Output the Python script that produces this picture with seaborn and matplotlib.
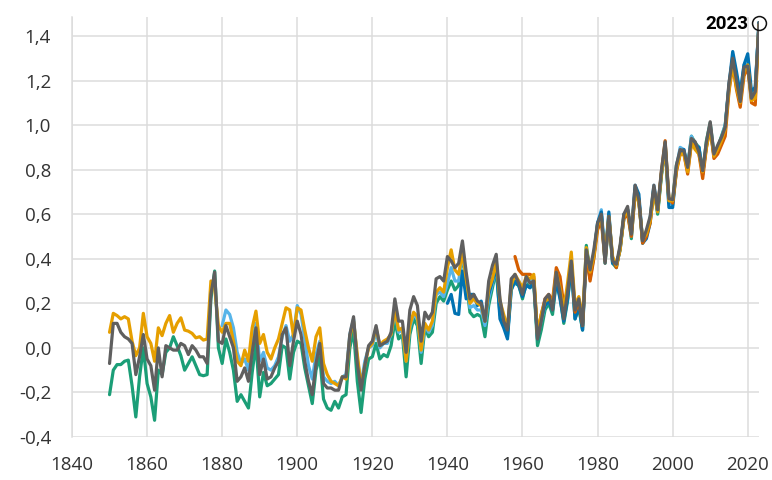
import numpy as np
import pandas as pd
import seaborn as sns
import matplotlib
matplotlib.use("Agg")
import matplotlib.pyplot as plt

# ---------------- data ----------------
years_1850 = list(range(1850, 2024))
years_1880 = list(range(1880, 2024))
years_1940 = list(range(1940, 2024))
years_1958 = list(range(1958, 2024))

gray_vals = [
    -0.07, 0.11, 0.11, 0.07, 0.05, 0.04, 0.02, -0.12, -0.04, 0.06,
    -0.05, -0.08, -0.19, 0.00, -0.13, 0.01, 0.00, -0.01, -0.01, 0.02,
    0.01, -0.03, 0.01, -0.01, -0.04, -0.04, -0.07, 0.24, 0.34, 0.03,
    0.02, 0.10, 0.05, 0.00, -0.15, -0.13, -0.09, -0.15, -0.02, 0.09,
    -0.12, -0.05, -0.14, -0.13, -0.09, -0.06, 0.06, 0.09, -0.08, 0.03,
    0.12, 0.06, -0.06, -0.15, -0.21, -0.07, 0.02, -0.16, -0.18, -0.18,
    -0.19, -0.19, -0.13, -0.13, 0.06, 0.14, -0.07, -0.19, -0.08, 0.01,
    0.03, 0.10, 0.01, 0.02, 0.03, 0.07, 0.22, 0.12, 0.12, -0.02,
    0.17, 0.23, 0.19, 0.03, 0.16, 0.13, 0.16, 0.31, 0.32, 0.30,
    0.41, 0.39, 0.36, 0.38, 0.48, 0.34, 0.22, 0.24, 0.21, 0.20,
    0.12, 0.30, 0.37, 0.42, 0.22, 0.12, 0.08, 0.31, 0.33, 0.29,
    0.24, 0.32, 0.29, 0.30, 0.04, 0.12, 0.22, 0.24, 0.17, 0.34,
    0.25, 0.13, 0.25, 0.39, 0.17, 0.22, 0.10, 0.44, 0.35, 0.44,
    0.56, 0.60, 0.38, 0.59, 0.39, 0.375, 0.46, 0.60, 0.635, 0.51,
    0.73, 0.665, 0.48, 0.53, 0.59, 0.73, 0.62, 0.795, 0.925, 0.67,
    0.665, 0.82, 0.89, 0.885, 0.81, 0.94, 0.925, 0.88, 0.795, 0.925,
    1.015, 0.87, 0.91, 0.945, 0.99, 1.19, 1.30, 1.20, 1.105, 1.26,
    1.265, 1.12, 1.15, 1.46,
]

orange_vals = [
    0.07, 0.155, 0.145, 0.13, 0.14, 0.13, 0.03, -0.035, 0.00, 0.155,
    0.05, 0.02, -0.06, 0.09, 0.055, 0.11, 0.145, 0.07, 0.11, 0.135,
    0.08, 0.075, 0.065, 0.045, 0.05, 0.035, 0.04, 0.30, 0.27, 0.10,
    0.07, 0.11, 0.11, 0.03, -0.06, -0.08, -0.01, -0.06, 0.09, 0.165,
    0.02, 0.06, -0.02, -0.05, 0.00, 0.04, 0.11, 0.18, 0.17, 0.05,
    0.18, 0.17, 0.08, 0.00, -0.06, 0.05, 0.09, -0.07, -0.12, -0.15,
    -0.16, -0.17, -0.13, -0.14, 0.05, 0.12, -0.03, -0.17, -0.08, 0.00,
    0.02, 0.09, 0.01, 0.03, 0.04, 0.06, 0.17, 0.08, 0.09, -0.06,
    0.10, 0.16, 0.14, -0.01, 0.11, 0.08, 0.12, 0.25, 0.27, 0.25,
    0.36, 0.44, 0.35, 0.33, 0.43, 0.31, 0.20, 0.22, 0.20, 0.19,
    0.12, 0.26, 0.31, 0.39, 0.21, 0.15, 0.09, 0.28, 0.33, 0.30,
    0.27, 0.32, 0.31, 0.33, 0.06, 0.15, 0.21, 0.22, 0.20, 0.34,
    0.27, 0.17, 0.29, 0.43, 0.19, 0.23, 0.13, 0.45, 0.34, 0.41,
    0.55, 0.58, 0.41, 0.59, 0.41, 0.37, 0.44, 0.59, 0.61, 0.52,
    0.70, 0.65, 0.49, 0.51, 0.57, 0.70, 0.61, 0.78, 0.90, 0.66,
    0.66, 0.80, 0.87, 0.87, 0.79, 0.92, 0.89, 0.87, 0.79, 0.90,
    0.99, 0.86, 0.89, 0.93, 0.98, 1.16, 1.27, 1.17, 1.10, 1.24,
    1.27, 1.11, 1.12, 1.45,
]

green_vals = [
    -0.21, -0.10, -0.075, -0.075, -0.06, -0.055, -0.17, -0.31, -0.13, 0.00,
    -0.16, -0.22, -0.325, -0.10, -0.12, -0.02, 0.00, 0.05, 0.01, -0.035,
    -0.10, -0.07, -0.04, -0.08, -0.12, -0.125, -0.12, 0.22, 0.345, 0.00,
    -0.07, 0.04, -0.02, -0.10, -0.24, -0.21, -0.24, -0.27, -0.11, 0.02,
    -0.22, -0.11, -0.17, -0.16, -0.14, -0.12, 0.01, 0.00, -0.14, -0.02,
    0.03, 0.02, -0.09, -0.17, -0.25, -0.10, -0.04, -0.23, -0.27, -0.28,
    -0.24, -0.27, -0.22, -0.21, 0.00, 0.08, -0.15, -0.29, -0.14, -0.05,
    -0.04, 0.02, -0.05, -0.03, -0.04, 0.01, 0.12, 0.04, 0.06, -0.13,
    0.06, 0.13, 0.10, -0.07, 0.09, 0.05, 0.07, 0.20, 0.23, 0.21,
    0.26, 0.30, 0.26, 0.28, 0.42, 0.30, 0.16, 0.14, 0.15, 0.14,
    0.05, 0.19, 0.27, 0.35, 0.15, 0.10, 0.05, 0.28, 0.29, 0.28,
    0.22, 0.29, 0.27, 0.29, 0.01, 0.08, 0.17, 0.20, 0.15, 0.30,
    0.23, 0.11, 0.21, 0.37, 0.13, 0.18, 0.08, 0.46, 0.34, 0.42,
    0.55, 0.60, 0.38, 0.58, 0.38, 0.36, 0.45, 0.58, 0.62, 0.49,
    0.71, 0.66, 0.47, 0.51, 0.58, 0.72, 0.60, 0.77, 0.92, 0.66,
    0.66, 0.82, 0.88, 0.88, 0.81, 0.95, 0.92, 0.90, 0.79, 0.93,
    1.01, 0.87, 0.90, 0.95, 1.00, 1.17, 1.29, 1.21, 1.11, 1.25,
    1.28, 1.12, 1.15, 1.46,
]

lightblue_vals = [
    0.10, 0.17, 0.15, 0.09, -0.02, -0.07, -0.05, -0.10, 0.02, 0.11,
    -0.06, -0.02, -0.09, -0.10, -0.08, -0.04, 0.05, 0.10, 0.03, 0.06,
    0.19, 0.15, 0.04, -0.08, -0.14, -0.03, 0.03, -0.13, -0.15, -0.16,
    -0.15, -0.17, -0.13, -0.12, 0.06, 0.13, -0.05, -0.16, -0.06, 0.00,
    0.01, 0.07, 0.00, 0.02, 0.02, 0.06, 0.17, 0.07, 0.08, -0.06,
    0.09, 0.15, 0.13, -0.02, 0.10, 0.07, 0.10, 0.24, 0.25, 0.23,
    0.29, 0.36, 0.30, 0.30, 0.42, 0.32, 0.18, 0.19, 0.17, 0.17,
    0.10, 0.22, 0.29, 0.36, 0.18, 0.13, 0.06, 0.26, 0.30, 0.30,
    0.25, 0.30, 0.30, 0.31, 0.05, 0.12, 0.19, 0.21, 0.18, 0.31,
    0.25, 0.15, 0.24, 0.38, 0.16, 0.20, 0.11, 0.42, 0.32, 0.42,
    0.56, 0.62, 0.40, 0.60, 0.40, 0.37, 0.44, 0.58, 0.62, 0.50,
    0.71, 0.67, 0.48, 0.51, 0.58, 0.73, 0.63, 0.78, 0.91, 0.65,
    0.64, 0.81, 0.90, 0.89, 0.81, 0.95, 0.91, 0.90, 0.78, 0.91,
    1.00, 0.87, 0.90, 0.94, 1.00, 1.17, 1.31, 1.22, 1.14, 1.27,
    1.30, 1.13, 1.17, 1.46,
]

darkblue_vals = [
    0.20, 0.24, 0.155, 0.15, 0.345, 0.22, 0.24, 0.24, 0.19, 0.21,
    0.12, 0.24, 0.30, 0.37, 0.13, 0.09, 0.04, 0.26, 0.30, 0.28,
    0.23, 0.28, 0.27, 0.30, 0.04, 0.13, 0.19, 0.21, 0.17, 0.30,
    0.22, 0.12, 0.22, 0.36, 0.13, 0.19, 0.08, 0.41, 0.31, 0.41,
    0.56, 0.61, 0.40, 0.61, 0.38, 0.37, 0.44, 0.60, 0.62, 0.52,
    0.73, 0.69, 0.47, 0.49, 0.56, 0.72, 0.61, 0.78, 0.90, 0.63,
    0.63, 0.80, 0.88, 0.89, 0.80, 0.93, 0.91, 0.90, 0.78, 0.91,
    0.99, 0.86, 0.90, 0.93, 0.99, 1.18, 1.33, 1.24, 1.14, 1.27,
    1.32, 1.15, 1.17, 1.46,
]

red_vals = [
    0.41, 0.35, 0.33, 0.33, 0.33, 0.32, 0.06, 0.15, 0.22, 0.24,
    0.21, 0.36, 0.32, 0.19, 0.26, 0.39, 0.16, 0.21, 0.10, 0.42,
    0.30, 0.40, 0.53, 0.57, 0.39, 0.58, 0.40, 0.36, 0.45, 0.58,
    0.60, 0.50, 0.69, 0.66, 0.47, 0.50, 0.56, 0.71, 0.62, 0.79,
    0.93, 0.67, 0.65, 0.79, 0.87, 0.87, 0.78, 0.92, 0.90, 0.87,
    0.76, 0.90, 0.99, 0.85, 0.87, 0.91, 0.95, 1.15, 1.27, 1.16,
    1.08, 1.22, 1.26, 1.10, 1.09, 1.45,
]

series_names = ["green", "lightblue", "darkblue", "red", "orange", "gray"]
series_colors = ["#1b9e77", "#56b4e9", "#0072b2", "#d55e00", "#e69f00", "#5f5f5f"]

y_ticks = [-0.4, -0.2, 0.0, 0.2, 0.4, 0.6, 0.8, 1.0, 1.2, 1.4]
y_tick_labels = ["-0,4", "-0,2", "0,0", "0,2", "0,4", "0,6", "0,8", "1,0", "1,2", "1,4"]
x_ticks = [1840, 1860, 1880, 1900, 1920, 1940, 1960, 1980, 2000, 2020]
x_tick_labels = ["1840", "1860", "1880", "1900", "1920", "1940", "1960", "1980", "2000", "2020"]
highlight_label = "2023"

# ---------------- build table ----------------
frames = []
for name, yrs, vals in [
    ("green", years_1850, green_vals),
    ("lightblue", years_1880, lightblue_vals),
    ("darkblue", years_1940, darkblue_vals),
    ("red", years_1958, red_vals),
    ("orange", years_1850, orange_vals),
    ("gray", years_1850, gray_vals),
]:
    frames.append(pd.DataFrame({"year": yrs, "anomaly": vals, "dataset": name}))
df = pd.concat(frames, ignore_index=True)

# ---------------- plot ----------------
sns.set_theme(style="white")
plt.rcParams["font.family"] = ["Open Sans", "DejaVu Sans"]

fig = plt.figure(figsize=(7.72, 4.80), dpi=100)
ax = fig.add_axes([72 / 772, 1 - 437 / 480, (759 - 72) / 772, (437 - 17) / 480])

grid_c = "#dcdcdc"
sns.lineplot(
    data=df, x="year", y="anomaly", hue="dataset",
    hue_order=series_names, palette=dict(zip(series_names, series_colors)),
    linewidth=2.3, legend=False, ax=ax, estimator=None, sort=True,
)

ax.set_xlim(1840, 2023.0)
ax.set_ylim(-0.4, 1.485)
ax.set_xticks(x_ticks)
ax.set_xticklabels(x_tick_labels)
ax.set_yticks(y_ticks)
ax.set_yticklabels(y_tick_labels)
ax.set_xlabel("")
ax.set_ylabel("")

ax.grid(True, color=grid_c, linewidth=1.1)
ax.set_axisbelow(True)
for side in ["top", "right", "bottom"]:
    ax.spines[side].set_visible(False)
ax.spines["left"].set_color(grid_c)
ax.spines["left"].set_linewidth(1.1)

ax.tick_params(axis="both", which="major", direction="out", length=9,
               width=1.0, color="#333333", labelcolor="#333333", labelsize=13.5)
ax.tick_params(axis="y", pad=6)
ax.tick_params(axis="x", pad=5)

# highlight last year
last_year = years_1850[-1]
last_val = max(darkblue_vals[-1], lightblue_vals[-1], green_vals[-1], gray_vals[-1])
ax.plot([last_year], [last_val], marker="o", markersize=10, markerfacecolor="none",
        markeredgecolor="#111111", markeredgewidth=1.1, clip_on=False, zorder=10)
ax.annotate(highlight_label, xy=(last_year, last_val), xytext=(-7.5, -4.5),
            textcoords="offset points", ha="right", va="baseline",
            fontsize=13.5, fontweight="bold", color="#000000",
            family=["Roboto", "DejaVu Sans"], annotation_clip=False)

fig.savefig("out.png", dpi=100)
